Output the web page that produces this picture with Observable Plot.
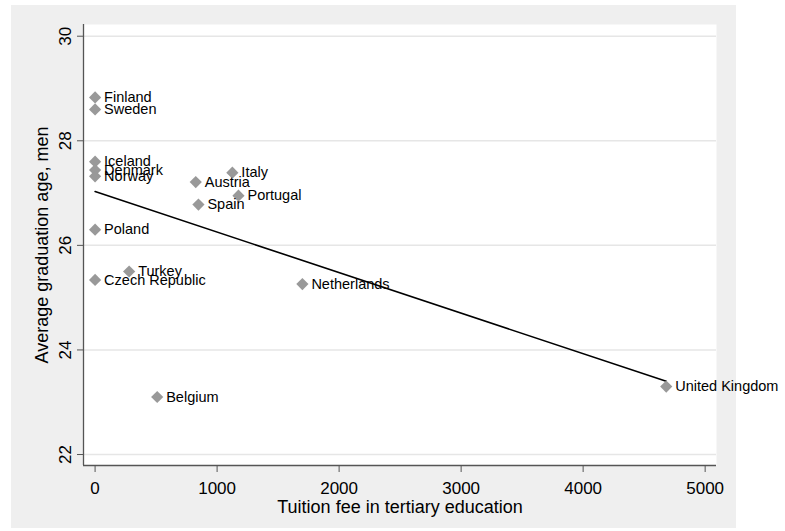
<!DOCTYPE html>
<html>
<head>
<meta charset="utf-8">
<script src="https://cdn.jsdelivr.net/npm/d3@7"></script>
<script src="https://cdn.jsdelivr.net/npm/@observablehq/plot@0.6"></script>
<style>
  html, body { margin: 0; padding: 0; background: #ffffff; }
  #bg { position: absolute; left: 11px; top: 5px; width: 725px; height: 523px; background: #efefef; }
  #chart { position: absolute; left: 0; top: 0; }
  #chart svg { overflow: visible; }
</style>
</head>
<body>
<div id="bg"></div>
<div id="chart"></div>
<script>
const countries = ["Finland","Sweden","Iceland","Denmark","Norway","Poland","Czech Republic","Turkey","Austria","Italy","Portugal","Spain","Netherlands","Belgium","United Kingdom"];
const tuitionFee = [0, 0, 0, 0, 0, 0, 0, 279, 825, 1125, 1175, 847, 1699, 509, 4681];
const gradAgeMen = [28.83, 28.60, 27.60, 27.44, 27.32, 26.30, 25.34, 25.50, 27.21, 27.39, 26.95, 26.78, 25.26, 23.10, 23.30];
const fitFee = [0, 4681];
const fitAge = [27.03, 23.40];
const xTicks = [0, 1000, 2000, 3000, 4000, 5000];
const yTicks = [22, 24, 26, 28, 30];

const points = countries.map((c, i) => ({country: c, fee: tuitionFee[i], age: gradAgeMen[i]}));
const fit = fitFee.map((f, i) => ({fee: f, age: fitAge[i]}));

const chart = Plot.plot({
  width: 785,
  height: 531,
  marginLeft: 83,
  marginRight: 69,
  marginTop: 24,
  marginBottom: 66,
  style: {background: "transparent", fontFamily: "'Liberation Sans', Arial, sans-serif", color: "#000"},
  x: {domain: [-95, 5093]},
  y: {domain: [21.79, 30.224]},
  marks: [
    Plot.frame({fill: "white", stroke: null}),
    Plot.gridY(yTicks, {stroke: "#e6e6e6", strokeOpacity: 1, strokeWidth: 1.5}),
    Plot.ruleX([-95], {stroke: "#555", strokeWidth: 1.3}),
    Plot.ruleY([21.79], {stroke: "#555", strokeWidth: 1.3}),
    Plot.axisX(xTicks, {
      tickSize: 7, tickPadding: 9, fontSize: 17, stroke: "#555", tickFormat: d => String(d),
      label: "Tuition fee in tertiary education", labelAnchor: "center", labelArrow: "none", labelOffset: 47
    }),
    Plot.axisY(yTicks, {
      tickSize: 6, tickPadding: 7, tickRotate: -90, fontSize: 17, stroke: "#555", tickFormat: d => String(d),
      label: "Average graduation age, men", labelAnchor: "center", labelArrow: "none", labelOffset: 48
    }),
    Plot.line(fit, {x: "fee", y: "age", stroke: "#000", strokeWidth: 1.6}),
    Plot.dot(points, {x: "fee", y: "age", symbol: "diamond2", r: 5.5, fill: "#999999", stroke: null}),
    Plot.text(points, {x: "fee", y: "age", text: "country", textAnchor: "start", dx: 9, fontSize: 14.5, fill: "#000"})
  ]
});
chart.querySelectorAll("g[aria-label='x-axis label'] text, g[aria-label='y-axis label'] text").forEach(t => t.setAttribute("font-size", 18));
document.getElementById("chart").appendChild(chart);
</script>
</body>
</html>
